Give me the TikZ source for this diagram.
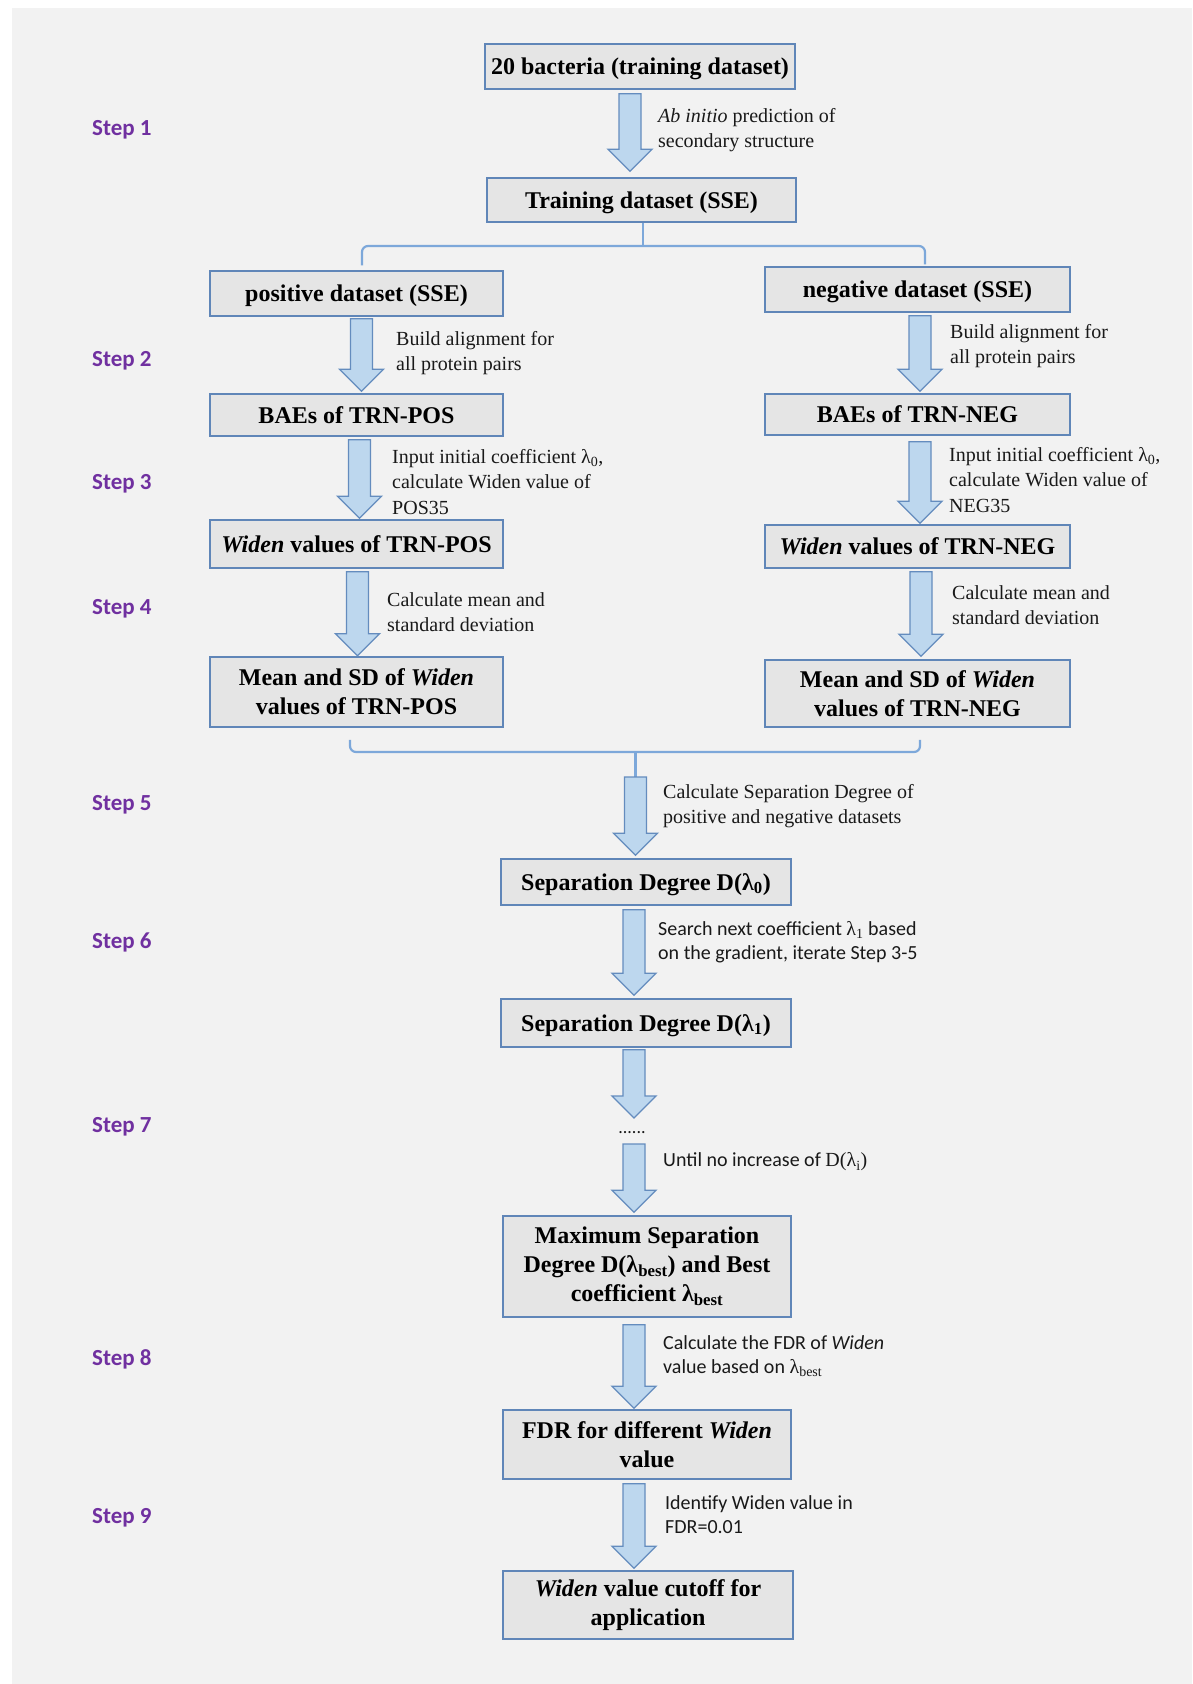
\documentclass[tikz,border=0pt]{standalone}
\usepackage{fontspec}
\setmainfont{Liberation Serif}
\newfontfamily\calfont{Carlito}
\newfontfamily\timesfont{Liberation Serif}
\usetikzlibrary{calc}
\definecolor{bg}{RGB}{242,242,242}
\definecolor{boxfill}{RGB}{229,229,229}
\definecolor{boxline}{RGB}{96,134,184}
\definecolor{arrfill}{RGB}{189,215,238}
\definecolor{arrline}{RGB}{100,140,190}
\definecolor{brk}{RGB}{125,168,218}
\definecolor{steppurple}{RGB}{112,48,160}
\definecolor{annot}{RGB}{25,25,25}
\begin{document}
\begin{tikzpicture}[x=1pt,y=-1pt,
 box/.style={draw=boxline, fill=boxfill, line width=1.5pt, align=center, inner sep=0pt,
   font=\fontsize{24}{29}\selectfont\timesfont\bfseries},
 onebox/.style={box, text height=18pt, text depth=2pt},
 ann/.style={anchor=west, align=left, text=annot, inner sep=0pt, font=\fontsize{20}{25.5}\selectfont\timesfont},
 annc/.style={anchor=west, align=left, text=annot, inner sep=0pt, font=\fontsize{20}{24}\selectfont\calfont},
 steplabel/.style={anchor=west, inner sep=0pt, text=steppurple, font=\fontsize{23}{28}\selectfont\calfont\bfseries},
 bracket/.style={draw=brk, line width=2.2pt},
 barrow/.style={draw=arrline, fill=arrfill, line width=1.3pt, line join=miter,
   to path={let \p1=(\tikztostart), \p2=(\tikztotarget) in
     (\x1-11pt,\y1) -- (\x1+11pt,\y1) -- (\x1+11pt,\y2+22pt) -- (\x1+22pt,\y2+22pt)
     -- (\x1,\y2) -- (\x1-22pt,\y2+22pt) -- (\x1-11pt,\y2+22pt) -- cycle}}
]
\useasboundingbox (0,0) rectangle (1192,1684);
\fill[white] (0,0) rectangle (1192,1684);
\fill[bg] (12,8) rectangle (1192,1684);

% step labels
\node[steplabel] (s1) at (92,130) {Step 1};
\node[steplabel] (s2) at (92,361) {Step 2};
\node[steplabel] (s3) at (92,484) {Step 3};
\node[steplabel] (s4) at (92,609) {Step 4};
\node[steplabel] (s5l) at (92,805) {Step 5};
\node[steplabel] (s6) at (92,942) {Step 6};
\node[steplabel] (s7) at (92,1127) {Step 7};
\node[steplabel] (s8) at (92,1359) {Step 8};
\node[steplabel] (s9) at (92,1518) {Step 9};

% boxes
\node[onebox, minimum width=310, minimum height=45] (b1) at (640,66.5) {20 bacteria (training dataset)};
\node[onebox, minimum width=309, minimum height=44] (b2) at (641.5,200) {Training dataset (SSE)};
\node[onebox, minimum width=293, minimum height=45] (pos) at (356.5,293.5) {positive dataset (SSE)};
\node[onebox, minimum width=305, minimum height=45] (neg) at (917.5,289.5) {negative dataset (SSE)};
\node[onebox, minimum width=293, minimum height=42] (baeP) at (356.5,415) {BAEs of TRN-POS};
\node[onebox, minimum width=305, minimum height=41] (baeN) at (917.5,414.5) {BAEs of TRN-NEG};
\node[onebox, minimum width=293, minimum height=48] (widP) at (356.5,544) {\textit{Widen} values of TRN-POS};
\node[onebox, minimum width=305, minimum height=43] (widN) at (917.5,546.5) {\textit{Widen} values of TRN-NEG};
\node[box, minimum width=293, minimum height=70] (meanP) at (356.5,692) {Mean and SD of \textit{Widen}\\values of TRN-POS};
\node[box, minimum width=305, minimum height=67] (meanN) at (917.5,693.5) {Mean and SD of \textit{Widen}\\values of TRN-NEG};
\node[onebox, minimum width=290, minimum height=46] (sd0) at (646,882) {Separation Degree D(λ\textsubscript{0})};
\node[onebox, minimum width=290, minimum height=48] (sd1) at (646,1023) {Separation Degree D(λ\textsubscript{1})};
\node[box, minimum width=288, minimum height=101] (max) at (647,1266.5) {Maximum Separation\\Degree D(λ\textsubscript{best}) and Best\\coefficient λ\textsubscript{best}};
\node[box, minimum width=288, minimum height=69] (fdr) at (647,1444.5) {FDR for different \textit{Widen}\\value};
\node[box, minimum width=290, minimum height=68] (cut) at (648,1605) {\textit{Widen} value cutoff for\\application};

\node[anchor=base, inner sep=0pt, text=annot, font=\fontsize{18}{20}\selectfont\calfont] (dots) at (632,1133) {......};

% annotations
\node[ann] (a1) at (658,130) {\textit{Ab initio} prediction of\\secondary structure};
\node[ann] (a2p) at (396,353) {Build alignment for\\all protein pairs};
\node[ann] (a2n) at (950,346) {Build alignment for\\all protein pairs};
\node[ann] (a3p) at (392,482) {Input initial coefficient {λ\textsubscript{0}},\\\timesfont calculate Widen value of\\\timesfont POS35};
\node[ann] (a3n) at (949,480) {Input initial coefficient {λ\textsubscript{0}},\\\timesfont calculate Widen value of\\\timesfont NEG35};
\node[ann] (a4p) at (387,612) {Calculate mean and\\standard deviation};
\node[ann] (a4n) at (952,605) {Calculate mean and\\standard deviation};
\node[ann] (a5) at (663,806) {Calculate Separation Degree of\\positive and negative datasets};
\node[annc] (a6) at (658,942) {Search next coefficient {\timesfont λ\textsubscript{1}} based\\on the gradient, iterate Step 3-5};
\node[annc] (a7) at (663,1162) {Until no increase of {\timesfont D(λ\textsubscript{i})}};
\node[annc] (a8) at (663,1356) {Calculate the FDR of \textit{Widen}\\value based on {\timesfont λ\textsubscript{best}}};
\node[annc] (a9) at (665,1515) {Identify Widen value in\\FDR=0.01};

% brackets
\coordinate (j1) at (643,246);
\draw[bracket, rounded corners=6pt] ([xshift=5.5pt,yshift=5pt]pos.north) |- (j1) -| ([xshift=7.5pt,yshift=2pt]neg.north);
\draw[bracket] ([xshift=1.5pt]b2.south) -- (j1);
\coordinate (j2) at (635.5,752);
\draw[bracket, rounded corners=6pt] ([xshift=-6.5pt,yshift=-12pt]meanP.south) |- (j2) -| ([xshift=2.5pt,yshift=-12pt]meanN.south);
\draw[bracket] (j2) -- ++(0,25) coordinate (s5top);

% block arrows
\draw[barrow] ([xshift=-10pt,yshift=-4pt]b1.south) to ([yshift=6pt]b2.north);
\draw[barrow] ([xshift=5pt,yshift=-2pt]pos.south) to ([yshift=2pt]baeP.north);
\draw[barrow] ([xshift=2.5pt,yshift=-3pt]neg.south) to ([yshift=2pt]baeN.north);
\draw[barrow] ([xshift=3pt,yshift=-3pt]baeP.south) to ([yshift=1pt]widP.north);
\draw[barrow] ([xshift=2.5pt,yshift=-6pt]baeN.south) to ([yshift=1pt]widN.north);
\draw[barrow] ([xshift=1pt,yshift=-3pt]widP.south) to ([yshift=0.5pt]meanP.north);
\draw[barrow] ([xshift=3.5pt,yshift=-3pt]widN.south) to ([yshift=3pt]meanN.north);
\draw[barrow] (s5top) to ([yshift=3pt]sd0.north);
\draw[barrow] ([xshift=-12pt,yshift=-4pt]sd0.south) to ([yshift=3pt]sd1.north);
\draw[barrow] ([xshift=-12pt,yshift=-2pt]sd1.south) to ([yshift=15pt]dots.base);
\draw[barrow] ([xshift=2pt,yshift=-11pt]dots.base) to ([yshift=3pt]max.north);
\draw[barrow] ([xshift=-13pt,yshift=-7pt]max.south) to ([yshift=1pt]fdr.north);
\draw[barrow] ([xshift=-13pt,yshift=-4pt]fdr.south) to ([yshift=2pt]cut.north);
\end{tikzpicture}
\end{document}
